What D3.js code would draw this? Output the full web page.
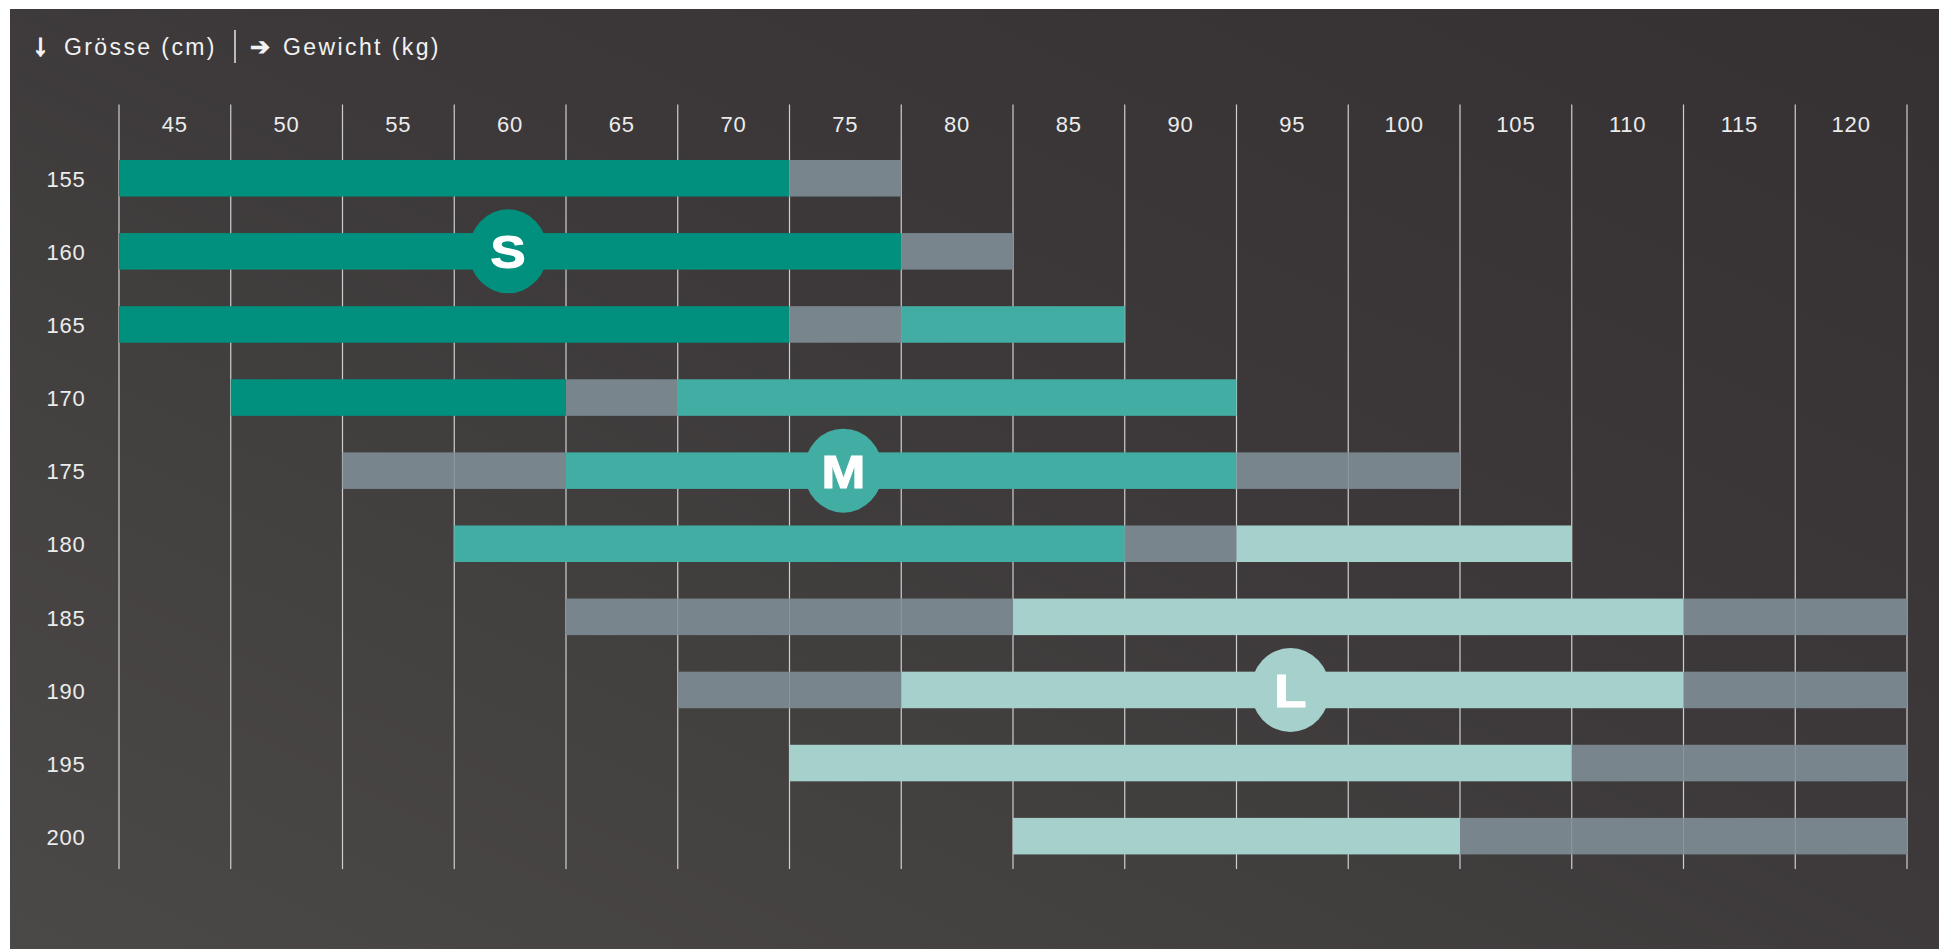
<!DOCTYPE html>
<html lang="de">
<head>
  <meta charset="UTF-8" />
  <title>Grössentabelle</title>
  <script src="https://cdn.jsdelivr.net/npm/d3@7/dist/d3.min.js"></script>
  <style>
    html, body {
      margin: 0;
      padding: 0;
      background: #fff;
      overflow: hidden;
    }
    svg { display: block; }
    text { font-family: "Liberation Sans", Arial, sans-serif; }
  </style>
</head>
<body>
  <div id="chart"></div>
  <script>
    // Körpergrösse (Zeilen) und Gewicht (Spalten)
    const heights = [155, 160, 165, 170, 175, 180, 185, 190, 195, 200];
    const weights = [45, 50, 55, 60, 65, 70, 75, 80, 85, 90, 95, 100, 105, 110, 115, 120];

    // [grösse, von kg, bis kg]
    const fitS = [[155, 45, 70], [160, 45, 75], [165, 45, 70], [170, 50, 60]];
    const fitM = [[165, 80, 85], [170, 70, 90], [175, 65, 90], [180, 60, 85]];
    const fitL = [[180, 95, 105], [185, 85, 110], [190, 80, 110], [195, 75, 105], [200, 85, 100]];
    // Grenzbereich (grau)
    const fitBorder = [
      [155, 75, 75], [160, 80, 80], [165, 75, 75], [170, 65, 65],
      [175, 55, 60], [175, 95, 100], [180, 90, 90],
      [185, 65, 80], [185, 115, 120], [190, 70, 75], [190, 115, 120],
      [195, 110, 120], [200, 105, 120]
    ];

    // Grössen-Badges: [label, kg, cm]
    const badges = [["S", 60, 160], ["M", 75, 175], ["L", 95, 190]];

    const colors = { S: "#00907d", M: "#42ada3", L: "#a5d0cb", border: "#78858c" };

    const W = 1946, H = 949;

    const svg = d3.select("#chart").append("svg")
      .attr("width", W)
      .attr("height", H);

    // Hintergrund mit leichtem Verlauf
    const grad = svg.append("defs").append("linearGradient")
      .attr("id", "bg")
      .attr("x1", "0%").attr("y1", "100%")
      .attr("x2", "100%").attr("y2", "0%");
    grad.append("stop").attr("offset", "0%").attr("stop-color", "#4b4947");
    grad.append("stop").attr("offset", "55%").attr("stop-color", "#3d393a");
    grad.append("stop").attr("offset", "100%").attr("stop-color", "#353132");

    svg.append("rect")
      .attr("x", 10).attr("y", 9)
      .attr("width", 1929).attr("height", H - 9)
      .attr("fill", "url(#bg)");

    const x = d3.scaleBand()
      .domain(weights)
      .range([119, 1907])
      .paddingInner(0).paddingOuter(0);

    const y = d3.scaleBand()
      .domain(heights)
      .range([141.7, 872.7])
      .paddingInner(0.5)
      .paddingOuter(0.25);

    // vertikale Gitterlinien
    const gridX = weights.map(w => x(w)).concat([x(weights[weights.length - 1]) + x.bandwidth()]);
    svg.append("g").selectAll("line")
      .data(gridX)
      .join("line")
      .attr("x1", d => d).attr("x2", d => d)
      .attr("y1", 104.5).attr("y2", 869)
      .attr("stroke", "#cfcfcf")
      .attr("stroke-width", 1.2);

    // Achsenbeschriftungen oben
    svg.append("g").selectAll("text")
      .data(weights)
      .join("text")
      .attr("x", d => x(d) + x.bandwidth() / 2)
      .attr("y", 124)
      .attr("dy", "0.35em")
      .attr("text-anchor", "middle")
      .attr("font-size", 22)
      .attr("letter-spacing", 0.8)
      .attr("fill", "#ececec")
      .text(d => d);

    // Achsenbeschriftungen links
    svg.append("g").selectAll("text")
      .data(heights)
      .join("text")
      .attr("x", 66)
      .attr("y", d => y(d) + y.bandwidth() / 2 + 1)
      .attr("dy", "0.35em")
      .attr("text-anchor", "middle")
      .attr("font-size", 22)
      .attr("letter-spacing", 0.8)
      .attr("fill", "#ececec")
      .text(d => d);

    // Balken
    const segs = []
      .concat(fitS.map(d => ({ h: d[0], from: d[1], to: d[2], k: "S" })))
      .concat(fitM.map(d => ({ h: d[0], from: d[1], to: d[2], k: "M" })))
      .concat(fitL.map(d => ({ h: d[0], from: d[1], to: d[2], k: "L" })));

    svg.append("g").selectAll("rect")
      .data(segs)
      .join("rect")
      .attr("x", d => x(d.from))
      .attr("y", d => y(d.h))
      .attr("width", d => x(d.to) + x.bandwidth() - x(d.from))
      .attr("height", y.bandwidth())
      .attr("fill", d => colors[d.k]);

    // Grenzbereich: einzelne Zellen
    const borderCells = [];
    fitBorder.forEach(d => {
      weights.filter(w => w >= d[1] && w <= d[2])
        .forEach(w => borderCells.push({ h: d[0], w: w, first: w === d[1] }));
    });

    const gb = svg.append("g");
    gb.selectAll("rect")
      .data(borderCells)
      .join("rect")
      .attr("x", d => x(d.w))
      .attr("y", d => y(d.h))
      .attr("width", x.bandwidth())
      .attr("height", y.bandwidth())
      .attr("fill", colors.border);
    gb.selectAll("line")
      .data(borderCells.filter(d => !d.first))
      .join("line")
      .attr("x1", d => x(d.w)).attr("x2", d => x(d.w))
      .attr("y1", d => y(d.h)).attr("y2", d => y(d.h) + y.bandwidth())
      .attr("stroke", "#8b979d")
      .attr("stroke-width", 1);

    // Badges
    const bg = svg.append("g").selectAll("g")
      .data(badges)
      .join("g")
      .attr("transform", d => `translate(${x(d[1]) + x.bandwidth() / 2 - 2},${y(d[2]) + y.bandwidth() / 2})`);
    bg.append("ellipse")
      .attr("rx", 39.5)
      .attr("ry", 42)
      .attr("fill", d => colors[d[0]]);
    bg.append("text")
      .attr("text-anchor", "middle")
      .attr("dy", "0.36em")
      .attr("font-size", 47)
      .attr("font-weight", "bold")
      .attr("fill", "#fff")
      .attr("stroke", "#fff")
      .attr("stroke-width", 1.2)
      .attr("transform", "scale(1.12,1)")
      .text(d => d[0]);

    // Kopfzeile
    const head = svg.append("g").attr("fill", "#f2f2f2");
    head.append("text")
      .attr("x", 33).attr("y", 55)
      .attr("font-family", "DejaVu Sans")
      .attr("font-weight", "bold")
      .attr("font-size", 30)
      .attr("stroke", "#f2f2f2")
      .attr("stroke-width", 1.6)
      .text("↓");
    head.append("text")
      .attr("x", 64).attr("y", 55)
      .attr("font-size", 23)
      .attr("letter-spacing", 2.4)
      .text("Grösse (cm)");
    svg.append("line")
      .attr("x1", 235).attr("x2", 235)
      .attr("y1", 30).attr("y2", 63)
      .attr("stroke", "#e6e6e6")
      .attr("stroke-width", 1.5);
    head.append("text")
      .attr("x", 250).attr("y", 55)
      .attr("font-family", "DejaVu Sans")
      .attr("font-weight", "bold")
      .attr("font-size", 24)
      .text("➔");
    head.append("text")
      .attr("x", 283).attr("y", 55)
      .attr("font-size", 23)
      .attr("letter-spacing", 2.4)
      .text("Gewicht (kg)");
  </script>
</body>
</html>
